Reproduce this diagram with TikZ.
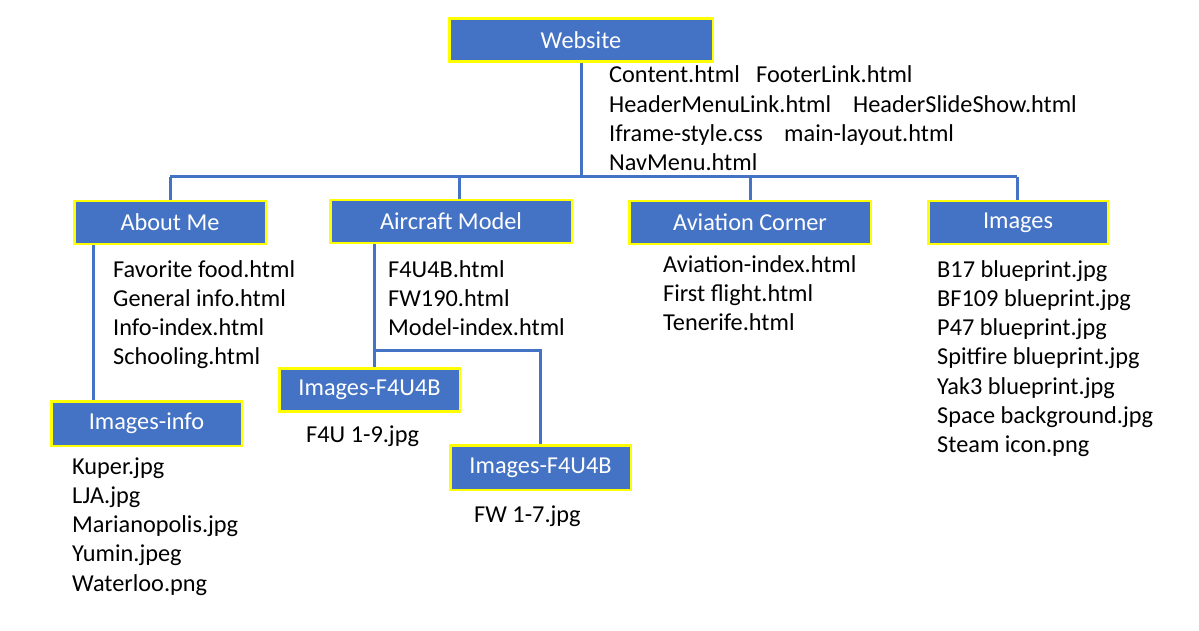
\documentclass[tikz,border=0pt]{standalone}
\usepackage{fontspec}
\setmainfont{Carlito}
\usetikzlibrary{positioning,calc}
\definecolor{boxblue}{HTML}{4472C4}
\definecolor{boxedge}{HTML}{FFFF00}
\tikzset{
  wire/.style   = {line width=3pt, draw=boxblue},
  dirbox/.style = {draw=boxedge, fill=boxblue, line width=2.5pt, text=white,
                   inner sep=0pt, minimum height=43pt,
                   font=\fontsize{24.3}{28}\selectfont},
  % anchored at the baseline of the last line
  files/.style  = {align=left, anchor=base west, inner sep=0pt,
                   font=\fontsize{24.3}{29.3}\selectfont},
}
\begin{document}
\begin{tikzpicture}[x=1pt, y=-1pt]
  \useasboundingbox (0,0) rectangle (1199,631);
  % top level
  \node[dirbox, minimum width=263.5] (web) at (581,40) {Website};
  \node[files] (webA) at (609,170.9) {Content.html\\HeaderMenuLink.html\\Iframe-style.css\\NavMenu.html};
  \node[files] (webB) at (756,83) {FooterLink.html};
  \node[files] (webC) at (853,112.3) {HeaderSlideShow.html};
  \node[files] (webD) at (784,141.6) {main-layout.html};
  % folders
  \node[dirbox, minimum width=191.5, minimum height=42.5] (about) at (170,222.5) {About Me};
  \node[dirbox, minimum width=241.5, minimum height=42.5] (aircraft) at (451,221.5) {Aircraft Model};
  \node[dirbox, minimum width=241.5, minimum height=42.5] (aviation) at (750,222.5) {Aviation Corner};
  \node[dirbox, minimum width=179.5, minimum height=42.5] (images) at (1018,222.5) {Images};
  \node[files] (aboutF) at (113,364.9) {Favorite food.html\\General info.html\\Info-index.html\\Schooling.html};
  \node[files] (aircraftF) at (388,335.6) {F4U4B.html\\FW190.html\\Model-index.html};
  \node[files] (aviationF) at (663,330.6) {Aviation-index.html\\First flight.html\\Tenerife.html};
  \node[files] (imagesF) at (937,452.8) {B17 blueprint.jpg\\BF109 blueprint.jpg\\P47 blueprint.jpg\\Spitfire blueprint.jpg\\Yak3 blueprint.jpg\\Space background.jpg\\Steam icon.png};
  % sub folders
  \node[dirbox, minimum width=190.5, minimum height=44.5] (imginfo) at (146.5,423.5) {Images-info};
  \node[dirbox, minimum width=180.5] (imgfu) at (369.5,390) {Images-F4U4B};
  \node[dirbox, minimum width=180.5, minimum height=44.5] (imgfw) at (540.5,467.5) {Images-F4U4B};
  \node[files] (imginfoF) at (72,591.2) {Kuper.jpg\\LJA.jpg\\Marianopolis.jpg\\Yumin.jpeg\\Waterloo.png};
  \node[files] (imgfuF) at (306,442) {F4U 1-9.jpg};
  \node[files] (imgfwF) at (474,522) {FW 1-7.jpg};
  % tree lines
  \coordinate (busL) at (170,177);
  \coordinate (busR) at (1017,177);
  \coordinate (fork) at (374,350);
  \draw[wire] (web.south) -- (web.south |- busL);
  \draw[wire] (busL) -- (busR);
  \draw[wire] (busL) -- (about.north);
  \draw[wire] ([xshift=8pt]aircraft.north |- busL) -- ([xshift=8pt]aircraft.north);
  \draw[wire] (aviation.north |- busL) -- (aviation.north);
  \draw[wire] (busR) -- (busR |- images.north);
  \draw[wire] ([xshift=-77pt]about.south) -- ([xshift=-53.5pt]imginfo.north);
  \draw[wire] ([xshift=-77pt]aircraft.south) -- ([xshift=4.5pt]imgfu.north);
  \draw[wire] (fork) -| (imgfw.north);
\end{tikzpicture}
\end{document}
